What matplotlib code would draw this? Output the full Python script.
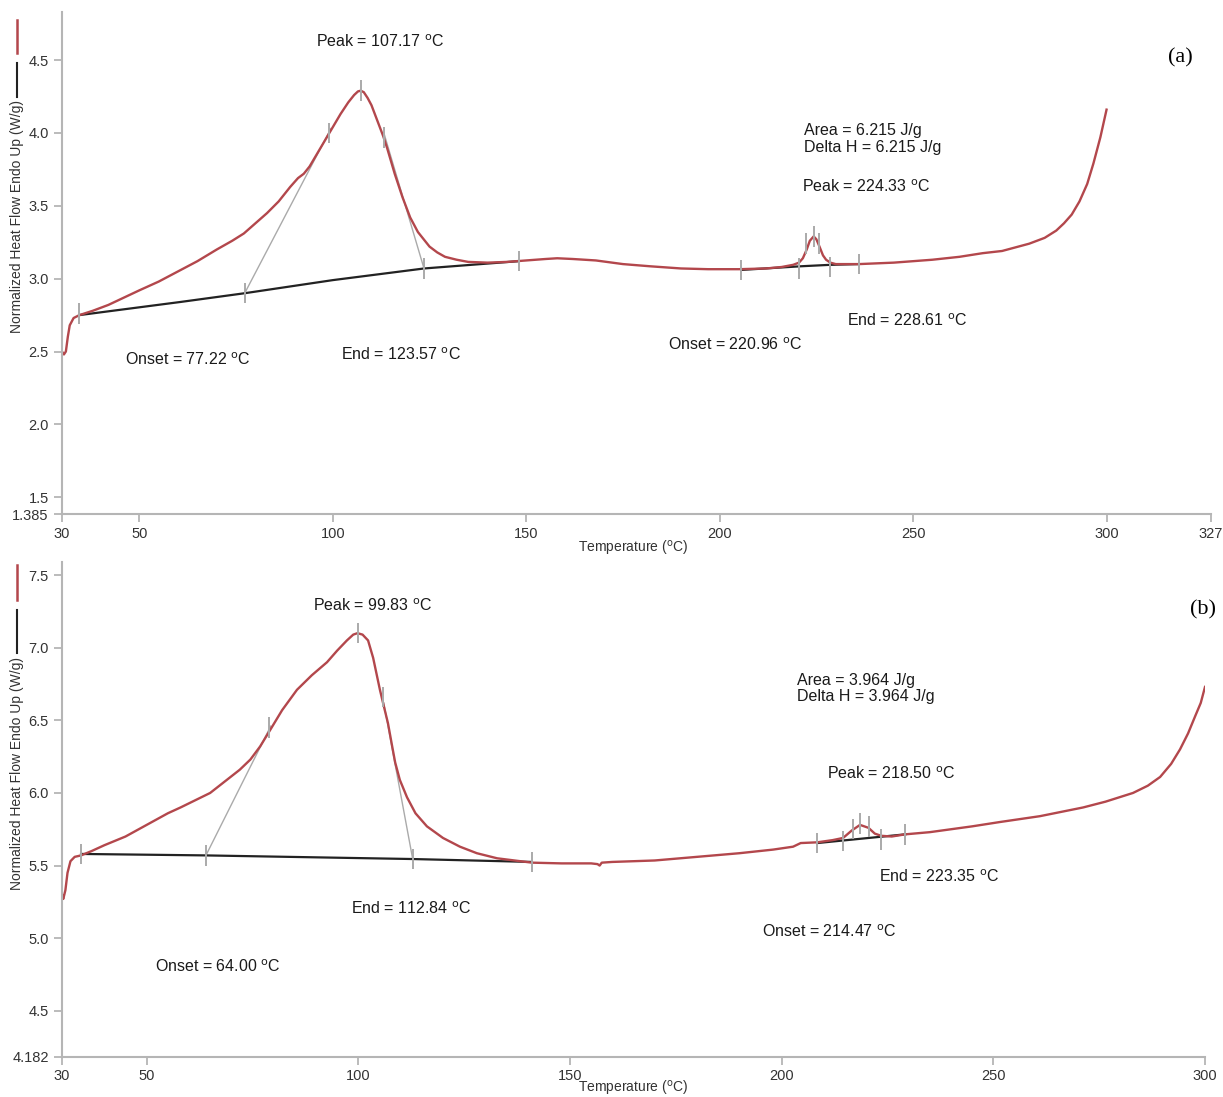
import numpy as np
import matplotlib.pyplot as plt
from matplotlib.lines import Line2D

plt.rcParams["font.family"] = ["Liberation Sans", "DejaVu Sans"]

W, H = 1223, 1097
RED = "#b3474c"
GRAY = "#aaaaaa"
DEG = r"$^{\mathrm{o}}$C"

# ---- panel (a) ----
a_temp = [30.0, 30.5, 31.0, 31.5, 32.0, 33.0, 34.5, 38, 42, 46, 50, 55, 60, 65, 70, 74, 77,
          80, 83, 86, 89, 91, 92.5, 94, 96, 98, 100, 102, 104, 105.5, 106.5, 107.2, 108,
          109, 110, 111, 112, 113, 114, 115, 116, 117, 118, 119, 120, 121, 122, 123.5, 125,
          127, 129, 132, 135, 140, 145, 150, 155, 158, 162, 168, 175, 182, 190, 197, 205,
          212, 216, 219, 220.5, 221.5, 222.5, 223.3, 224.3, 225, 225.8, 226.7, 227.5,
          228.6, 230, 236, 245, 255, 262, 268, 273, 280, 284, 287, 289, 291, 293, 295,
          296.6, 298.4, 300]
a_flow = [2.50, 2.48, 2.50, 2.60, 2.68, 2.73, 2.75, 2.78, 2.82, 2.87, 2.92, 2.98, 3.05,
          3.12, 3.20, 3.26, 3.31, 3.38, 3.45, 3.53, 3.63, 3.69, 3.72, 3.77, 3.86, 3.95,
          4.04, 4.13, 4.21, 4.26, 4.285, 4.29, 4.28, 4.24, 4.19, 4.12, 4.05, 3.98, 3.90,
          3.81, 3.72, 3.64, 3.56, 3.49, 3.42, 3.37, 3.32, 3.27, 3.22, 3.18, 3.15, 3.13,
          3.115, 3.11, 3.115, 3.125, 3.135, 3.14, 3.135, 3.125, 3.10, 3.085, 3.07, 3.065,
          3.065, 3.07, 3.08, 3.095, 3.11, 3.14, 3.20, 3.26, 3.29, 3.27, 3.22, 3.16, 3.13,
          3.11, 3.10, 3.10, 3.11, 3.13, 3.15, 3.175, 3.19, 3.24, 3.28, 3.33, 3.38, 3.44,
          3.53, 3.65, 3.79, 3.97, 4.16]
a_base1_t = [34.5, 60.6, 77.2, 100, 123.6, 148]
a_base1_y = [2.75, 2.84, 2.90, 2.99, 3.07, 3.12]
a_base2_t = [205.6, 220.96, 228.61, 235.9]
a_base2_y = [3.06, 3.085, 3.095, 3.10]
a_onset_tan_t = [77.22, 99.5]
a_onset_tan_y = [2.90, 4.03]
a_end_tan_t = [113.2, 123.57]
a_end_tan_y = [4.00, 3.07]
a_mark_t = [34.5, 77.22, 99.0, 107.17, 113.3, 123.57, 148, 205.6, 220.6, 222.4, 224.33,
            225.8, 228.4, 235.9]
a_mark_y = [2.76, 2.90, 4.00, 4.29, 3.97, 3.07, 3.12, 3.06, 3.07, 3.24, 3.29, 3.24, 3.08, 3.10]

# ---- panel (b) ----
b_temp = [30.0, 30.3, 30.8, 31.3, 32.0, 33.0, 34.5, 37, 40, 45, 50, 55, 58, 61.5, 65, 68.5,
          72, 74.5, 76.8, 79.1, 82, 85.5, 89, 92.6, 95, 97.3, 98.8, 99.8, 101, 102.3, 103.5,
          104.3, 105.1, 106, 107, 108, 108.7, 109.8, 111.5, 113.5, 116.2, 120, 124, 128,
          132.8, 141, 148, 155, 156.5, 157, 157.5, 160, 170, 180, 190, 198, 202.7, 204.5,
          208.4, 212, 214.5, 216.5, 218.5, 220.5, 222, 223.5, 226, 229.2, 235, 245, 251.6,
          261, 271.2, 276.5, 283, 286.5, 289.4, 292, 294.1, 296, 297.7, 299, 300]
b_flow = [5.30, 5.27, 5.33, 5.45, 5.53, 5.56, 5.57, 5.60, 5.64, 5.70, 5.78, 5.86, 5.90,
          5.95, 6.00, 6.08, 6.16, 6.23, 6.32, 6.43, 6.57, 6.71, 6.81, 6.90, 6.98, 7.05,
          7.09, 7.10, 7.09, 7.05, 6.93, 6.82, 6.71, 6.60, 6.48, 6.32, 6.21, 6.09, 5.97,
          5.86, 5.77, 5.69, 5.63, 5.585, 5.55, 5.52, 5.515, 5.515, 5.51, 5.50, 5.52, 5.525,
          5.535, 5.56, 5.585, 5.61, 5.63, 5.655, 5.66, 5.675, 5.69, 5.74, 5.78, 5.76, 5.72,
          5.705, 5.70, 5.715, 5.73, 5.77, 5.80, 5.84, 5.90, 5.94, 6.00, 6.05, 6.11, 6.20,
          6.30, 6.41, 6.53, 6.62, 6.73]
b_base1_t = [34.5, 63.8, 112.8, 141]
b_base1_y = [5.58, 5.57, 5.545, 5.525]
b_base2_t = [208.4, 229.2]
b_base2_y = [5.655, 5.715]
b_onset_tan_t = [64.0, 79.3]
b_onset_tan_y = [5.57, 6.46]
b_end_tan_t = [106.0, 112.84]
b_end_tan_y = [6.62, 5.545]
b_mark_t = [34.5, 64.0, 79.0, 99.83, 105.8, 112.84, 141, 208.4, 214.47, 216.9, 218.5,
            220.6, 223.35, 229.2]
b_mark_y = [5.58, 5.57, 6.45, 7.10, 6.66, 5.545, 5.525, 5.655, 5.67, 5.75, 5.79, 5.77,
            5.68, 5.715]

a_xticks = [30, 50, 100, 150, 200, 250, 300, 327]
a_yticks = [1.385, 1.5, 2.0, 2.5, 3.0, 3.5, 4.0, 4.5]
a_yticklabels = ["1.385", "1.5", "2.0", "2.5", "3.0", "3.5", "4.0", "4.5"]
b_xticks = [30, 50, 100, 150, 200, 250, 300]
b_yticks = [4.182, 4.5, 5.0, 5.5, 6.0, 6.5, 7.0, 7.5]
b_yticklabels = ["4.182", "4.5", "5.0", "5.5", "6.0", "6.5", "7.0", "7.5"]

a_notes = [("Peak = 107.17 " + DEG, 316, 42), ("Area = 6.215 J/g", 804, 131),
           ("Delta H = 6.215 J/g", 804, 148), ("Peak = 224.33 " + DEG, 802, 187),
           ("Onset = 77.22 " + DEG, 125, 360), ("End = 123.57 " + DEG, 341, 355),
           ("Onset = 220.96 " + DEG, 668, 345), ("End = 228.61 " + DEG, 847, 321)]
b_notes = [("Peak = 99.83 " + DEG, 313, 606), ("Area = 3.964 J/g", 797, 680),
           ("Delta H = 3.964 J/g", 797, 697), ("Peak = 218.50 " + DEG, 827, 774),
           ("End = 223.35 " + DEG, 879, 877), ("Onset = 214.47 " + DEG, 762, 932),
           ("End = 112.84 " + DEG, 351, 909), ("Onset = 64.00 " + DEG, 155, 967)]


def fx(px):
    return px / W


def fy(py):
    return 1 - py / H


def panel(rect, temp, flow, base1, base2, tan1, tan2, marks, xlim, ylim, xt, yt, ytl):
    ax = fig.add_axes(rect)
    ax.plot(tan1[0], tan1[1], color=GRAY, lw=1.0)
    ax.plot(tan2[0], tan2[1], color=GRAY, lw=1.0)
    ax.plot(base1[0], base1[1], color="#222222", lw=1.6)
    ax.plot(base2[0], base2[1], color="#222222", lw=1.6)
    ax.plot(temp, flow, color=RED, lw=1.7, solid_joinstyle="round")
    ax.vlines(marks[0], np.array(marks[1]) - 0.07, np.array(marks[1]) + 0.07,
              color=GRAY, lw=1.4, zorder=5)
    ax.set_xlim(*xlim)
    ax.set_ylim(*ylim)
    ax.set_xticks(xt)
    ax.set_yticks(yt)
    ax.set_yticklabels(ytl)
    for s in ["top", "right"]:
        ax.spines[s].set_visible(False)
    for s in ["left", "bottom"]:
        ax.spines[s].set_color("#b5b5b5")
        ax.spines[s].set_linewidth(1.5)
    ax.tick_params(colors="#b5b5b5", labelcolor="#333333", labelsize=10.5, length=6,
                   width=1.3, direction="out")
    ax.tick_params(axis="x", pad=3)
    return ax


fig = plt.figure(figsize=(W / 100, H / 100), dpi=100)

panel([fx(62), fy(514), fx(1211) - fx(62), fy(12) - fy(514)], a_temp, a_flow,
      (a_base1_t, a_base1_y), (a_base2_t, a_base2_y), (a_onset_tan_t, a_onset_tan_y),
      (a_end_tan_t, a_end_tan_y), (a_mark_t, a_mark_y), (30, 327), (1.385, 4.83),
      a_xticks, a_yticks, a_yticklabels)
panel([fx(62), fy(1057), fx(1205) - fx(62), fy(562) - fy(1057)], b_temp, b_flow,
      (b_base1_t, b_base1_y), (b_base2_t, b_base2_y), (b_onset_tan_t, b_onset_tan_y),
      (b_end_tan_t, b_end_tan_y), (b_mark_t, b_mark_y), (30, 300), (4.182, 7.59),
      b_xticks, b_yticks, b_yticklabels)

for notes in (a_notes, b_notes):
    for txt, px, py in notes:
        fig.text(fx(px), fy(py), txt, fontsize=11.5, ha="left", va="center", color="#1a1a1a")

fig.text(fx(1168), fy(58), "(a)", fontsize=16, family="Liberation Serif", va="center")
fig.text(fx(1190), fy(610), "(b)", fontsize=16, family="Liberation Serif", va="center")

# y labels with the little legend lines stacked above them
for top, red_span, blk_span in ((100, (20, 53), (63, 97)), (657, (565, 600), (610, 653))):
    fig.text(fx(17), fy(top), "Normalized Heat Flow Endo Up (W/g)", rotation=90,
             ha="center", va="top", fontsize=10, color="#333333")
    fig.add_artist(Line2D([fx(17), fx(17)], [fy(red_span[0]), fy(red_span[1])],
                          color=RED, lw=1.8))
    fig.add_artist(Line2D([fx(17), fx(17)], [fy(blk_span[0]), fy(blk_span[1])],
                          color="#222222", lw=1.5))

fig.text(fx(633), fy(548), "Temperature (" + DEG + ")", ha="center", va="center",
         fontsize=10, color="#333333")
fig.text(fx(633), fy(1089), "Temperature (" + DEG + ")", ha="center", va="center",
         fontsize=10, color="#333333")

fig.savefig("out.png", dpi=100)
